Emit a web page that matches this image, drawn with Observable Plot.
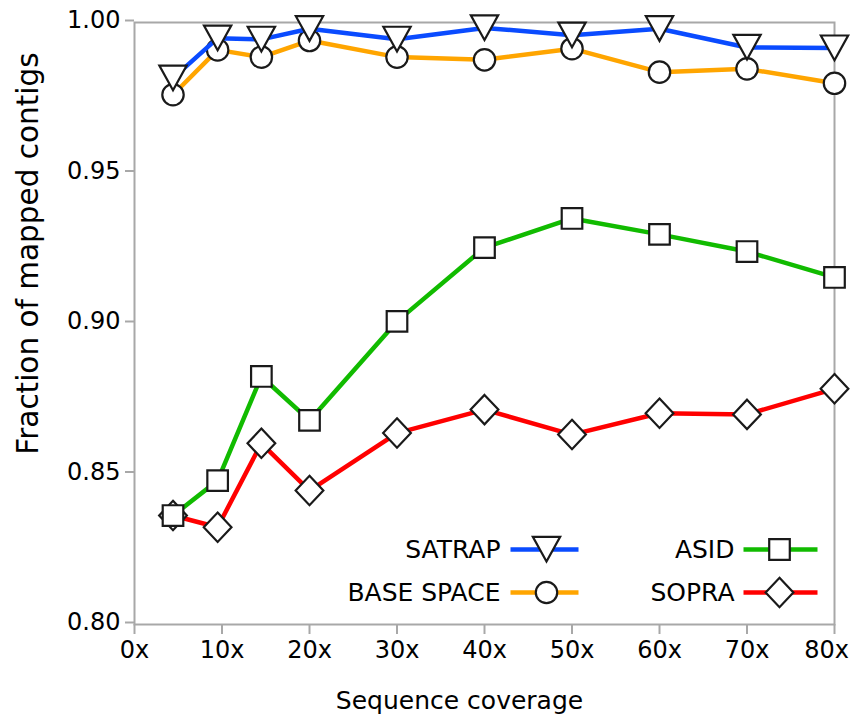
<!DOCTYPE html>
<html>
<head>
<meta charset="utf-8">
<script src="https://cdn.jsdelivr.net/npm/d3@7"></script>
<script src="https://cdn.jsdelivr.net/npm/@observablehq/plot@0.6"></script>
<style>
  html, body { margin: 0; padding: 0; background: white; }
  #wrap { position: relative; width: 853px; height: 715px; }
  #wrap svg { position: absolute; left: 0; top: 0; overflow: visible; }
</style>
</head>
<body>
<div id="wrap"></div>
<script>
// ---- data ----
const coverage   = [4.4, 9.5, 14.5, 20, 30, 40, 50, 60, 70, 80];
const satrap     = [0.9815, 0.9948, 0.9944, 0.9979, 0.9944, 0.9982, 0.9958, 0.9979, 0.9917, 0.9915];
const baseSpace  = [0.9760, 0.9909, 0.9885, 0.9940, 0.9885, 0.9876, 0.9913, 0.9835, 0.9846, 0.9798];
const asid       = [0.8362, 0.8478, 0.8824, 0.8678, 0.9007, 0.9252, 0.9349, 0.9296, 0.9239, 0.9153];
const sopra      = [0.8362, 0.8323, 0.8602, 0.8445, 0.8636, 0.8714, 0.8631, 0.8702, 0.8698, 0.8783];
const seriesNames = ["SATRAP", "BASE SPACE", "ASID", "SOPRA"];
const xTicks = [0, 10, 20, 30, 40, 50, 60, 70, 80];
const yTicks = [0.80, 0.85, 0.90, 0.95, 1.00];
const xTickLabels = xTicks.map(d => d + "x");

// ---- styles ----
const seriesColors = ["#0a4bff", "#ffa500", "#11bb00", "#ff0000"];
const markerStroke = "#1a1a1a";
const axisGray = "#a8a8a8";
const font = "DejaVu Sans";

// custom marker shapes (size = r^2 * PI)
const rad = s => Math.sqrt(s / Math.PI);
const triangleDown = {draw(c, s) { const r = rad(s); const w = r * 1.3, t = r * 1.2, b = r * 1.15;
  c.moveTo(-w, -t); c.lineTo(w, -t); c.lineTo(0, b); c.closePath(); }};
const circleSym = {draw(c, s) { const r = rad(s) * 1.02; c.moveTo(r, 0); c.arc(0, 0, r, 0, 2 * Math.PI); c.closePath(); }};
const squareSym = {draw(c, s) { const r = rad(s) * 0.98; c.moveTo(-r, -r); c.lineTo(r, -r); c.lineTo(r, r); c.lineTo(-r, r); c.closePath(); }};
const diamondSym = {draw(c, s) { const r = rad(s); const w = r * 1.32, h = r * 1.4;
  c.moveTo(0, -h); c.lineTo(w, 0); c.lineTo(0, h); c.lineTo(-w, 0); c.closePath(); }};
const seriesSymbols = [triangleDown, circleSym, squareSym, diamondSym];

const seriesValues = [satrap, baseSpace, asid, sopra];
const series = seriesNames.map((name, i) => ({
  name, color: seriesColors[i], symbol: seriesSymbols[i],
  rows: coverage.map((x, j) => ({x, y: seriesValues[i][j]}))
}));
const drawOrder = [3, 2, 1, 0]; // SOPRA, ASID, BASE SPACE, SATRAP

const dataMarks = drawOrder.flatMap(i => {
  const s = series[i];
  return [
    Plot.line(s.rows, {x: "x", y: "y", stroke: s.color, strokeWidth: 4.5, strokeLinejoin: "round"}),
    Plot.dot(s.rows, {x: "x", y: "y", r: 10.5, symbol: s.symbol, fill: "white", stroke: markerStroke, strokeWidth: 2.2})
  ];
});

const chart = Plot.plot({
  width: 853, height: 715,
  marginLeft: 134, marginRight: 19, marginTop: 22, marginBottom: 91,
  style: {fontFamily: font, fontSize: "24px", background: "white", color: "black"},
  x: {domain: [0, 80]},
  y: {domain: [0.80, 1.00]},
  marks: [
    Plot.axisY({ticks: yTicks, tickFormat: d => d.toFixed(2), tickSize: 9, tickPadding: 5,
      stroke: axisGray, strokeWidth: 2, label: null, fontSize: 24, dy: -2}),
    Plot.axisX({ticks: xTicks, tickSize: 10, stroke: axisGray, strokeWidth: 2, fill: "none", label: null}),
    Plot.axisX({ticks: xTicks.slice(0, -1), tickSize: 0, tickPadding: 16,
      tickFormat: d => xTickLabels[xTicks.indexOf(d)], label: null, fontSize: 24}),
    Plot.axisX({ticks: xTicks.slice(-1), tickSize: 0, tickPadding: 16,
      tickFormat: d => xTickLabels[xTicks.indexOf(d)], label: null, fontSize: 24, dx: -8}),
    Plot.frame({stroke: axisGray, strokeWidth: 2}),
    ...dataMarks,
    Plot.text(["Fraction of mapped contigs"], {text: d => d, frameAnchor: "left", rotate: -90,
      textAnchor: "middle", lineAnchor: "middle", dx: -106, dy: -70, fontSize: 29.5, fill: "black"}),
    Plot.text(["Sequence coverage"], {text: d => d, frameAnchor: "bottom", textAnchor: "middle",
      lineAnchor: "middle", dx: -25, dy: 76, fontSize: 25, fill: "black"})
  ]
});

// ---- legend overlay (pixel layout) ----
const legendCols = [
  {textEnd: 500, lineStart: 510, lineEnd: 578, marker: 546},
  {textEnd: 734, lineStart: 743, lineEnd: 817, marker: 779}
];
const legendRowsY = [549, 592];
const legendSlots = [[0, 0], [0, 1], [1, 0], [1, 1]]; // [col,row] per series
const legendItems = series.map((s, i) => {
  const c = legendCols[legendSlots[i][0]];
  return {...s, ...c, y: legendRowsY[legendSlots[i][1]]};
});
const legendMarks = legendItems.flatMap(it => [
  Plot.link([it], {x1: "lineStart", x2: "lineEnd", y1: "y", y2: "y", stroke: it.color, strokeWidth: 4.5}),
  Plot.dot([it], {x: "marker", y: "y", r: 10.5, symbol: it.symbol, fill: "white", stroke: markerStroke, strokeWidth: 2.2}),
  Plot.text([it], {x: "textEnd", y: "y", text: "name", textAnchor: "end", fontSize: 25, fill: "black"})
]);
const legend = Plot.plot({
  width: 853, height: 715, margin: 0,
  x: {type: "identity", axis: null},
  y: {type: "identity", axis: null},
  style: {fontFamily: font, background: "transparent", pointerEvents: "none"},
  marks: legendMarks
});

const wrap = document.getElementById("wrap");
wrap.appendChild(chart);
wrap.appendChild(legend);
</script>
</body>
</html>
